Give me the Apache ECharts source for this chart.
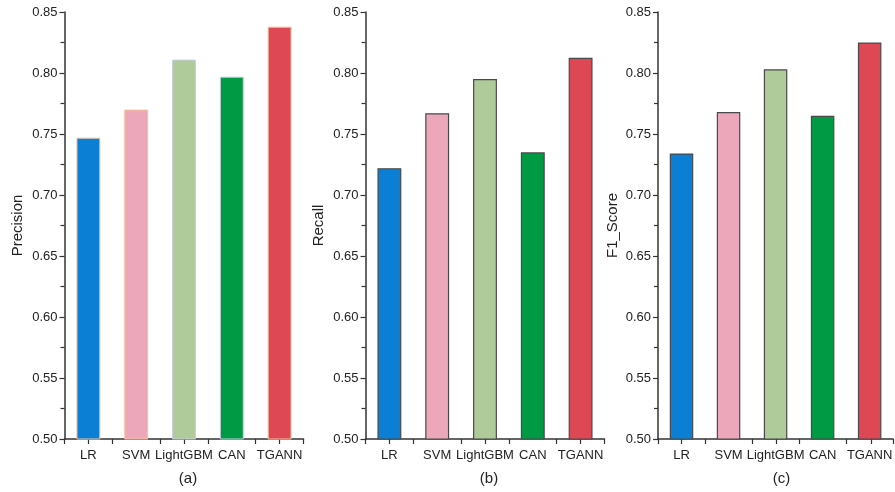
<!DOCTYPE html>
<html>
<head>
<meta charset="utf-8">
<script src="https://cdn.jsdelivr.net/npm/echarts@6/dist/echarts.min.js"></script>
<style>html,body{margin:0;padding:0;background:#fff;}#c{width:895px;height:492px;}</style>
</head>
<body>
<div id="c"></div>
<script>
const categories = ['LR', 'SVM', 'LightGBM', 'CAN', 'TGANN'];
const precision = [0.747, 0.770, 0.811, 0.797, 0.838];
const recall = [0.722, 0.767, 0.795, 0.735, 0.8125];
const f1Score = [0.734, 0.768, 0.803, 0.765, 0.825];
const panelNames = ['Precision', 'Recall', 'F1_Score'];
const panelTags = ['(a)', '(b)', '(c)'];
const barColors = ['#0b7fd4', '#eca7ba', '#afcb9a', '#009944', '#de4754'];
const yMin = 0.5, yMax = 0.85, yStep = 0.05;

const FONT = 'Arial, "Liberation Sans", sans-serif';
const chart = echarts.init(document.getElementById('c'), null, {renderer: 'canvas'});
const seriesData = [precision, recall, f1Score];
const lefts = [64.5, 365.5, 658];
const W = 239, TOP = 12, H = 427;
const nameGaps = [39, 39, 38];
const borderA = ['#f4c7a0', '#f4c09a', '#c9cde0', '#c9cde0', '#f4c7a0'];

const grid = [], xAxis = [], yAxis = [], series = [], title = [];
lefts.forEach((l, i) => {
  grid.push({left: l, top: TOP, width: W, height: H, containLabel: false});
  grid.push({left: l, top: TOP, width: W, height: H, containLabel: false});
  const axLine = {show: true, lineStyle: {color: '#333', width: 1.5}};
  xAxis.push({
    type: 'category', gridIndex: 2 * i, data: categories,
    axisLine: axLine,
    axisTick: {show: true, alignWithLabel: false, length: 5, inside: false, lineStyle: {color: '#333', width: 1.2}},
    axisLabel: {color: '#222', fontSize: 13, fontFamily: FONT, margin: 10, interval: 0}
  });
  xAxis.push({
    type: 'category', gridIndex: 2 * i + 1, data: categories,
    axisLine: {show: false},
    axisTick: {show: true, alignWithLabel: true, length: 5, inside: false, lineStyle: {color: '#333', width: 1.2}},
    axisLabel: {show: false}
  });
  yAxis.push({
    type: 'value', gridIndex: 2 * i, min: yMin, max: yMax, interval: yStep,
    name: panelNames[i], nameLocation: 'middle', nameGap: nameGaps[i],
    nameTextStyle: {color: '#222', fontSize: 15, fontFamily: FONT},
    axisLine: axLine,
    axisTick: {show: true, length: 5, inside: false, lineStyle: {color: '#333', width: 1.2}},
    minorTick: {show: true, splitNumber: 2, length: 4, lineStyle: {color: '#333', width: 1.2}},
    splitLine: {show: false},
    axisLabel: {color: '#222', fontSize: 13, fontFamily: FONT, margin: 7, formatter: v => v.toFixed(2)}
  });
  yAxis.push({
    type: 'value', gridIndex: 2 * i + 1, min: yMin, max: yMax, interval: yStep, show: false
  });
  series.push({
    type: 'bar', xAxisIndex: 2 * i, yAxisIndex: 2 * i, barWidth: '50%',
    data: seriesData[i].map((v, k) => ({
      value: v,
      itemStyle: {
        color: barColors[k],
        borderColor: i === 0 ? borderA[k] : '#4a4a4a',
        borderWidth: i === 0 ? 1 : 1.2
      }
    }))
  });
  title.push({
    text: panelTags[i], left: l + W / 2 - 1, top: 466, textAlign: 'center',
    textStyle: {fontSize: 15, fontWeight: 'normal', color: '#222', fontFamily: FONT}
  });
});

chart.setOption({
  backgroundColor: '#fff',
  animation: false,
  title, grid, xAxis, yAxis, series
});
</script>
</body>
</html>
